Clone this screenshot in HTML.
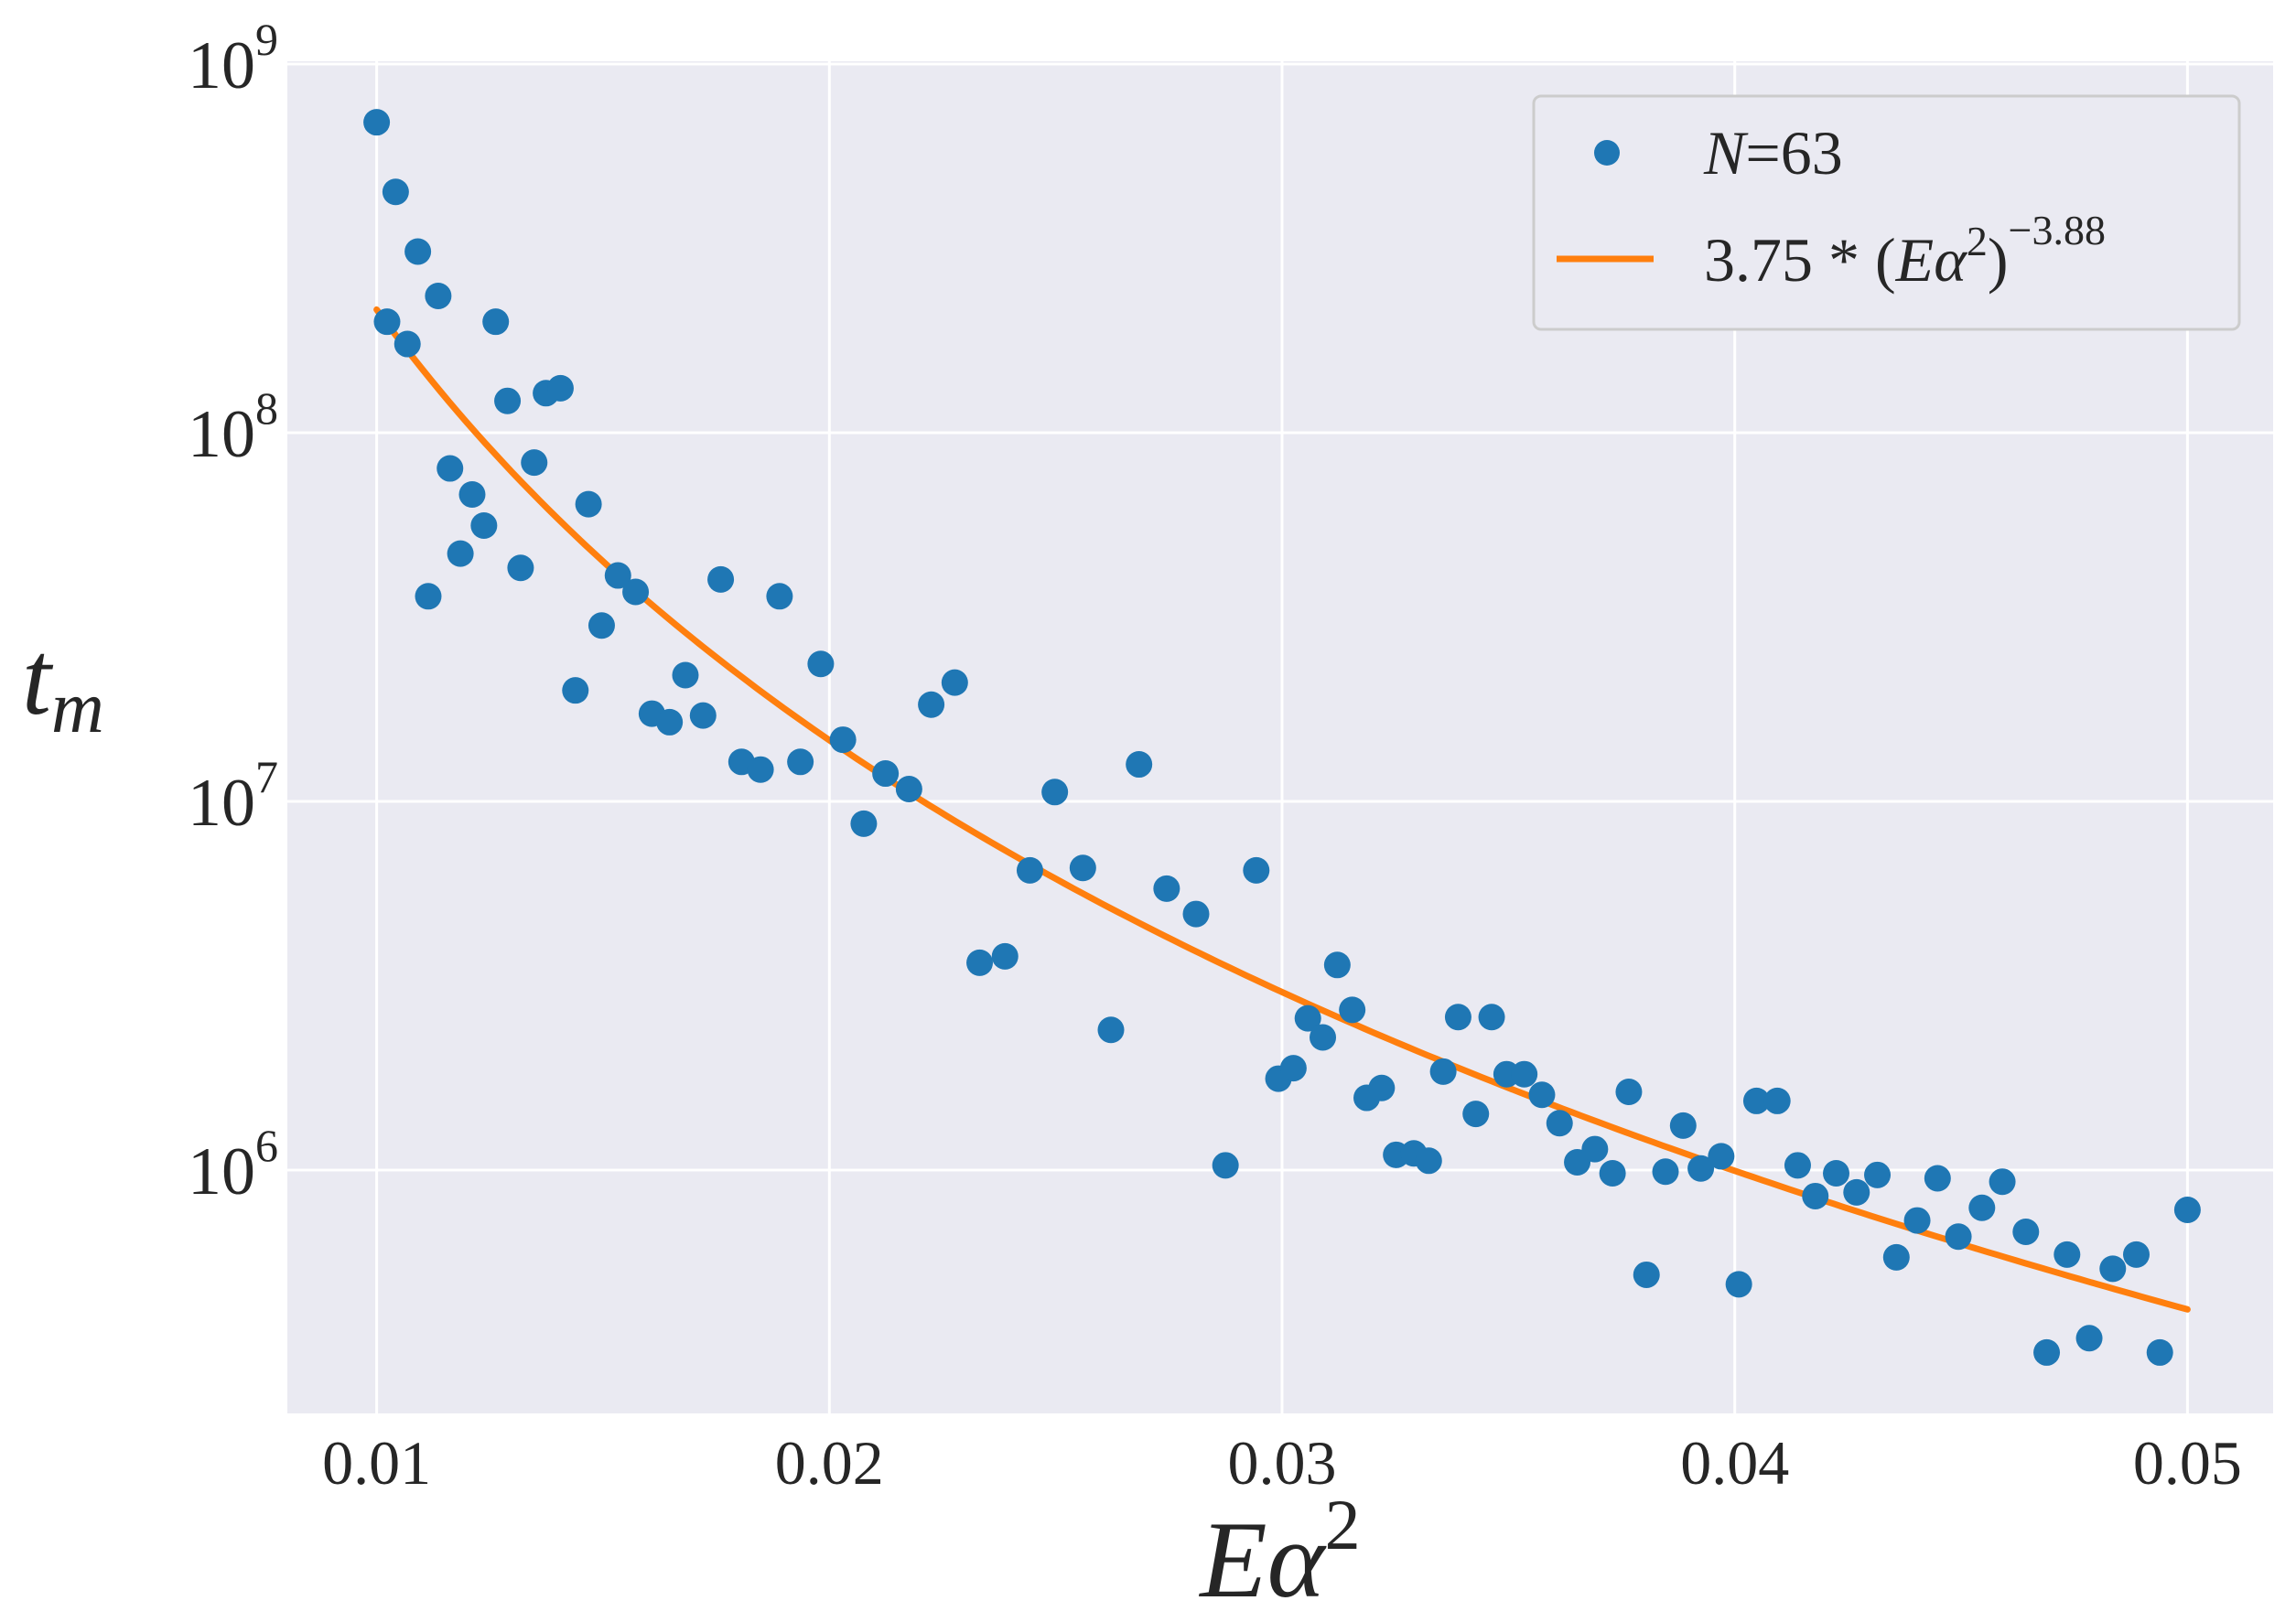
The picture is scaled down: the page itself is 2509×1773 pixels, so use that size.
<!DOCTYPE html>
<html><head><meta charset="utf-8"><style>
html,body{margin:0;padding:0;background:#fff}
svg{display:block}
text{font-family:"Liberation Serif","DejaVu Serif",serif;fill:#262626}
</style></head><body>
<svg id="chart" width="2509" height="1773" viewBox="0 0 2509 1773" xmlns="http://www.w3.org/2000/svg">
<rect x="314" y="67" width="2170" height="1478" fill="#eaeaf2"/>
<g id="grid"></g>
<g id="fitline"></g>
<g id="points"></g>
<g id="xticks"></g>
<g id="yticks"></g>
<text x="1399" y="1745" font-size="120" font-style="italic" text-anchor="middle">Eα<tspan font-size="78" dy="-52" font-style="normal">2</tspan></text>
<text x="24" y="780" font-size="115" font-style="italic">t<tspan font-size="80" dy="20">m</tspan></text>
<g>
<rect x="1676" y="105" width="771" height="255" rx="8" fill="#eaeaf2" stroke="#cccccc" stroke-width="3"/>
<circle cx="1756" cy="167" r="14" fill="#1f77b4"/>
<text x="1862" y="190" font-size="68"><tspan font-style="italic">N</tspan>=63</text>
<line x1="1701" y1="283" x2="1807" y2="283" stroke="#ff7f0e" stroke-width="7"/>
<text x="1862" y="307" font-size="68">3.75 * (<tspan font-style="italic">Eα</tspan><tspan font-size="46" dy="-28">2</tspan><tspan dy="28">)</tspan><tspan font-size="46" dy="-40">−3.88</tspan></text>
</g>
</svg>
<script>
const xTicks=[0.01,0.02,0.03,0.04,0.05];
const xTickLabels=["0.01","0.02","0.03","0.04","0.05"];
const yTickExp=[6,7,8,9];
const fitA=3.75;
const fitB=-3.88;
const xs=[.0100,.01023,.01042,.01068,.01091,.01114,.01136,.01162,.01185,.01211,.01237,.01263,.01289,.01318,.01348,.01374,.01406,.01439,.01468,.01497,.01533,.01572,.01608,.01647,.01682,.01721,.01760,.01806,.01848,.01890,.01936,.01981,.02030,.02076,.02124,.02176,.02225,.02277,.02332,.02388,.02443,.02498,.02560,.02622,.02684,.02745,.02810,.02875,.02943,.02992,.03025,.03057,.03090,.03122,.03155,.03187,.03220,.03252,.03291,.03324,.03356,.03389,.03428,.03463,.03496,.03535,.03574,.03613,.03652,.03691,.03730,.03766,.03805,.03847,.03886,.03925,.03970,.04009,.04048,.04094,.04139,.04178,.04224,.04269,.04315,.04357,.04403,.04448,.04494,.04546,.04591,.04643,.04689,.04734,.04783,.04835,.04887,.04939,.05];
const ys=[6.95e8,2.0e8,4.5e8,1.74e8,3.1e8,3.6e7,2.35e8,8.0e7,4.7e7,6.8e7,5.6e7,2.0e8,1.22e8,4.3e7,8.3e7,1.28e8,1.32e8,2.0e7,6.4e7,3.0e7,4.1e7,3.7e7,1.73e7,1.64e7,2.2e7,1.71e7,4.0e7,1.28e7,1.22e7,3.6e7,1.28e7,2.36e7,1.47e7,8.7e6,1.19e7,1.08e7,1.83e7,2.1e7,3.65e6,3.8e6,6.5e6,1.06e7,6.6e6,2.4e6,1.26e7,5.8e6,4.95e6,1.03e6,6.5e6,1.77e6,1.89e6,2.58e6,2.29e6,3.6e6,2.72e6,1.57e6,1.67e6,1.1e6,1.11e6,1.06e6,1.85e6,2.6e6,1.42e6,2.6e6,1.82e6,1.82e6,1.6e6,1.34e6,1.05e6,1.14e6,9.8e5,1.63e6,5.2e5,9.9e5,1.32e6,1.01e6,1.09e6,4.9e5,1.54e6,1.54e6,1.03e6,8.5e5,9.8e5,8.7e5,9.7e5,5.8e5,7.3e5,9.5e5,6.6e5,7.9e5,9.3e5,6.8e5,3.2e5,5.9e5,3.5e5,5.4e5,5.9e5,3.2e5,7.8e5];

const NS="http://www.w3.org/2000/svg";
const PL=314,PR=2484,PT=67,PB=1545;
function X(v){return 411.6+(v-0.01)*49470;}
function Y(v){return 1279-(Math.log10(v)-6)*403;}
function mk(tag,attrs,parent){const e=document.createElementNS(NS,tag);for(const k in attrs)e.setAttribute(k,attrs[k]);parent.appendChild(e);return e;}
const grid=document.getElementById('grid');
xTicks.forEach(t=>{
  const l=mk('line',{x1:X(t),x2:X(t),y1:PT,y2:PB,stroke:'#fff','stroke-width':3},grid);
  
  
});
yTickExp.forEach(e=>{
  const l=mk('line',{x1:PL,x2:PR,y1:Y(Math.pow(10,e)),y2:Y(Math.pow(10,e)),stroke:'#fff','stroke-width':3},grid);
  
  
});
const xt=document.getElementById('xticks');
xTicks.forEach((t,i)=>{
  const tx=mk('text',{x:X(t),y:1622,'font-size':68,'text-anchor':'middle'},xt);
  tx.textContent=xTickLabels[i];
  
  
});
const yt=document.getElementById('yticks');
yTickExp.forEach(e=>{
  const tx=mk('text',{x:304,y:Y(Math.pow(10,e))+26,'font-size':74,'text-anchor':'end'},yt);
  tx.innerHTML='10<tspan font-size="50" dy="-36">'+e+'</tspan>';
  
  
});
const fl=document.getElementById('fitline');
let d='';
for(let i=0;i<=200;i++){const x=0.01+i*0.04/200;const y=fitA*Math.pow(x,fitB);d+=(i?'L':'M')+X(x).toFixed(1)+' '+Y(y).toFixed(1);}
const p=mk('path',{d:d,fill:'none',stroke:'#ff7f0e','stroke-width':7,'stroke-linecap':'round'},fl);


const pts=document.getElementById('points');
xs.forEach((x,i)=>{
  const c=mk('circle',{cx:X(x),cy:Y(ys[i]),r:14.5,fill:'#1f77b4'},pts);
  
  
});
</script>
</body></html>
